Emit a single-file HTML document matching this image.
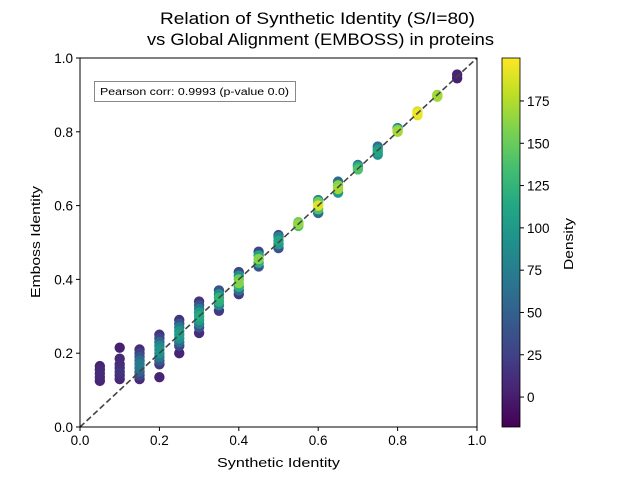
<!DOCTYPE html>
<html><head><meta charset="utf-8"><style>
html,body{margin:0;padding:0;background:#fff;}
svg{display:block;font-family:"Liberation Sans","DejaVu Sans",sans-serif;}
</style></head><body>
<svg id="chart" width="640" height="480" viewBox="0 0 640 480">
<defs><linearGradient id="vir" x1="0" y1="1" x2="0" y2="0"></linearGradient></defs>
<text x="160" y="24" font-size="17" textLength="315" lengthAdjust="spacingAndGlyphs">Relation of Synthetic Identity (S/I=80)</text>
<text x="147" y="45" font-size="17" textLength="347" lengthAdjust="spacingAndGlyphs">vs Global Alignment (EMBOSS) in proteins</text>
<g id="plot"></g>
<g id="axes"></g>
<text x="217" y="467" font-size="13" textLength="123" lengthAdjust="spacingAndGlyphs">Synthetic Identity</text>
<text transform="translate(40,298) rotate(-90)" font-size="13" textLength="112" lengthAdjust="spacingAndGlyphs">Emboss Identity</text>
<rect x="94.5" y="81.5" width="201" height="20" fill="#fff" stroke="#888"/>
<text x="100" y="95" font-size="10" textLength="189" lengthAdjust="spacingAndGlyphs">Pearson corr: 0.9993 (p-value 0.0)</text>
<g id="cbar"></g>
<text transform="translate(573,270) rotate(-90)" font-size="13" textLength="52" lengthAdjust="spacingAndGlyphs">Density</text>
</svg>
<script>
const xVals=[.05,.05,.05,.05,.05,
.10,.10,.10,.10,.10,.10,.10,
.15,.15,.15,.15,.15,.15,.15,.15,.15,
.20,.20,.20,.20,.20,.20,.20,.20,.20,.20,
.25,.25,.25,.25,.25,.25,.25,.25,.25,
.30,.30,.30,.30,.30,.30,.30,.30,.30,
.35,.35,.35,.35,.35,.35,
.40,.40,.40,.40,.40,.40,.40,
.45,.45,.45,.45,.45,
.50,.50,.50,.50,.50,
.55,.55,.55,
.60,.60,.60,.60,.60,
.65,.65,.65,.65,
.70,.70,.70,
.75,.75,.75,.75,
.80,.80,.80,
.85,.85,.85,
.90,.90,
.95,.95];
const yVals=[.125,.135,.145,.155,.165,
.13,.14,.15,.16,.17,.185,.215,
.13,.14,.15,.16,.17,.18,.19,.20,.21,
.135,.17,.18,.19,.20,.21,.22,.23,.24,.25,
.20,.22,.23,.24,.25,.26,.27,.28,.29,
.255,.27,.28,.29,.30,.31,.32,.33,.34,
.315,.33,.34,.35,.36,.37,
.36,.37,.38,.39,.40,.41,.42,
.435,.445,.455,.465,.475,
.485,.495,.505,.515,.52,
.545,.55,.555,
.58,.59,.60,.61,.615,
.635,.645,.655,.665,
.698,.705,.71,
.738,.745,.752,.76,
.80,.805,.81,
.845,.85,.855,
.895,.90,
.945,.955];
const dVals=[5,8,10,8,5,
8,12,15,12,10,8,2,
10,30,50,65,70,60,40,25,10,
5,20,45,70,90,95,80,55,30,15,
5,30,60,90,105,95,70,40,15,
10,40,75,105,115,100,70,40,15,
20,80,120,125,90,40,
20,60,120,160,150,90,30,
40,120,160,110,30,
40,100,110,80,30,
140,165,150,
60,140,190,150,80,
100,170,160,60,
140,120,70,
90,110,100,60,
170,160,90,
190,195,185,
170,165,
2,5];
const axisTicks=[0,0.2,0.4,0.6,0.8,1.0];
const axisTickLabels=["0.0","0.2","0.4","0.6","0.8","1.0"];
const cbarTicks=[0,25,50,75,100,125,150,175];
const dMin=-17.7,dMax=200.4;

const NS="http://www.w3.org/2000/svg";
const X0=80,X1=477,Y0=427,Y1=58;
const sx=v=>X0+v*(X1-X0);
const sy=v=>Y0-v*(Y0-Y1);
const vir=[[68,1,84],[72,35,116],[64,67,135],[52,94,141],[41,120,142],[32,144,140],[34,167,132],[68,190,112],[121,209,81],[189,222,38],[253,231,37]];
function cmap(t){t=Math.max(0,Math.min(1,t));const p=t*10,i=Math.min(9,Math.floor(p)),f=p-i;const a=vir[i],b=vir[i+1];return `rgb(${a.map((c,k)=>Math.round(c+(b[k]-c)*f)).join(',')})`;}
function el(tag,attrs,parent){const e=document.createElementNS(NS,tag);for(const k in attrs)e.setAttribute(k,attrs[k]);parent.appendChild(e);return e;}
const plot=document.getElementById('plot');
const idx=dVals.map((d,i)=>i).sort((a,b)=>dVals[a]-dVals[b]);
idx.forEach(i=>{
  const c=el('circle',{cx:sx(xVals[i]),cy:sy(yVals[i]),r:5.2,fill:cmap((dVals[i]-dMin)/(dMax-dMin))},plot);
  
  
});
const diag=el('line',{x1:sx(0),y1:sy(0),x2:sx(1),y2:sy(1),stroke:'#444','stroke-width':1.6,'stroke-dasharray':'6,3'},plot);


const axes=document.getElementById('axes');
const frame=el('rect',{x:X0,y:Y1,width:X1-X0,height:Y0-Y1,fill:'none',stroke:'#000','stroke-width':1},axes);


axisTicks.forEach((v,i)=>{
  el('line',{x1:sx(v),y1:Y0,x2:sx(v),y2:Y0+4,stroke:'#000'},axes);
  const tx=el('text',{x:sx(v),y:Y0+18,'text-anchor':'middle','font-size':13.5},axes);
  tx.textContent=axisTickLabels[i];
  
  
  el('line',{x1:X0-4,y1:sy(v),x2:X0,y2:sy(v),stroke:'#000'},axes);
  const ty=el('text',{x:X0-7,y:sy(v)+5,'text-anchor':'end','font-size':13.5},axes);
  ty.textContent=axisTickLabels[i];
  
  
});
const grad=document.getElementById('vir');
for(let k=0;k<=20;k++){el('stop',{offset:k/20,'stop-color':cmap(k/20)},grad);}
const cb=document.getElementById('cbar');
const CX0=502,CX1=520;
const cy=v=>Y0-(v-dMin)/(dMax-dMin)*(Y0-Y1);
const cr=el('rect',{x:CX0,y:Y1,width:CX1-CX0,height:Y0-Y1,fill:'url(#vir)',stroke:'#000','stroke-width':0.8},cb);


cbarTicks.forEach(v=>{
  el('line',{x1:CX1,y1:cy(v),x2:CX1+4,y2:cy(v),stroke:'#000'},cb);
  const t=el('text',{x:CX1+7,y:cy(v)+5,'font-size':13.5},cb);
  t.textContent=String(v);
  
  
});
</script>
</body></html>
